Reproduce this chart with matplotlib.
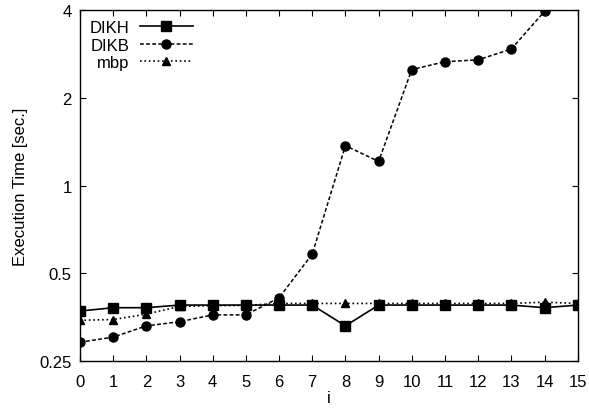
import numpy as np
import matplotlib.pyplot as plt
from matplotlib.ticker import FixedLocator, NullLocator

plt.rcParams['font.family'] = ['Liberation Sans', 'DejaVu Sans']

# Execution times per input index i
i = np.arange(16)
dikh = [0.371, 0.381, 0.381, 0.389, 0.389, 0.389, 0.389, 0.389,
        0.330, 0.389, 0.389, 0.389, 0.389, 0.389, 0.381, 0.389]
dikb = [0.290, 0.302, 0.330, 0.341, 0.360, 0.360, 0.412, 0.582,
        1.37, 1.21, 2.50, 2.66, 2.70, 2.94, 3.96]
mbp = [0.345, 0.347, 0.362, 0.385, 0.387, 0.388, 0.394, 0.394,
       0.394, 0.394, 0.394, 0.394, 0.394, 0.394, 0.398, 0.394]

yticks = [0.25, 0.5, 1, 2, 4]
yticklabels = ['0.25', '0.5', '1', '2', '4']

fig = plt.figure(figsize=(5.89, 4.10), dpi=100)
ax = fig.add_axes([0.1358, 0.117, 0.845, 0.856])

ax.plot(i, dikh, 'k-', marker='s', markersize=7, linewidth=1.2, label='DIKH')
ax.plot(i[:len(dikb)], dikb, 'k--', marker='o', markersize=6.5, linewidth=1.1,
        dashes=(2.5, 1.5), label='DIKB')
ax.plot(i, mbp, 'k:', marker='^', markersize=5.5, linewidth=1.2, label='mbp')

ax.set_yscale('log', base=2)
ax.set_ylim(0.25, 4)
ax.set_xlim(0, 15)
ax.yaxis.set_major_locator(FixedLocator(yticks))
ax.set_yticklabels(yticklabels)
ax.yaxis.set_minor_locator(NullLocator())
ax.set_xticks(i)

ax.tick_params(direction='in', length=4, width=0.8, top=True, right=True,
               labelsize=12, pad=6)
ax.tick_params(axis='x', pad=9)
for s in ax.spines.values():
    s.set_linewidth(1.0)

ax.set_xlabel('i', fontsize=12, labelpad=1)
ax.set_ylabel('Execution Time [sec.]', fontsize=12, labelpad=8)

ax.legend(loc='upper left', frameon=False, markerfirst=False, fontsize=12,
          handlelength=3.2, handletextpad=0.6, labelspacing=0.15,
          borderaxespad=0.2)

fig.savefig('out.png', dpi=100)
